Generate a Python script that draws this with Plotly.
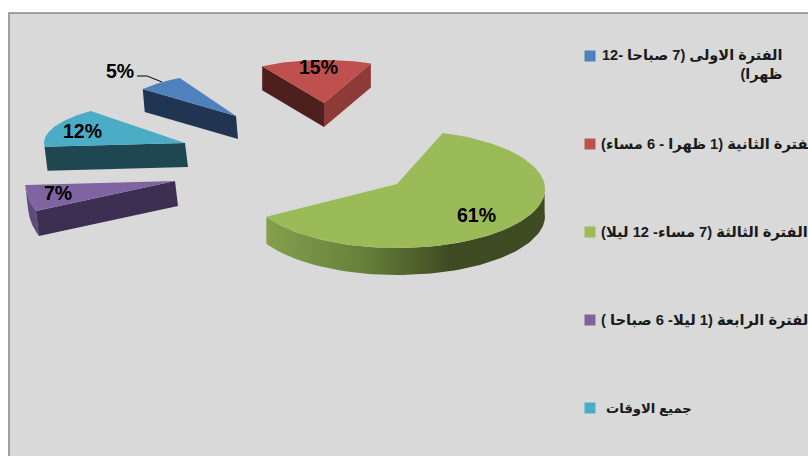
import numpy as np
import plotly.graph_objects as go

# ---- data ----
categories = [
    "الفترة الاولى (7 صباحا -12<br>ظهرا)",
    "الفترة الثانية (1 ظهرا - 6 مساء)",
    "الفترة الثالثة (7 مساء- 12 ليلا)",
    "الفترة الرابعة (1 ليلا- 6 صباحا )",
    "جميع الاوقات",
]
values = [5, 15, 61, 7, 12]
labels = ["5%", "15%", "61%", "7%", "12%"]
colors = ["#4F81BD", "#C0504D", "#9BBB59", "#8064A2", "#4BACC6"]

# ---- styling of the exploded 3-D look (apex, radii, start angle, wall offset) ----
apex_x = [236, 324, 397, 175, 185]
apex_y = [116, 103, 184, 181, 143]
drop_y = [0, 0, 5, 0, 0]
radius_x = [120, 120, 148, 150, 141]
radius_y = [43, 43, 59, 80, 43]
start_deg = [-51, -31, 18, -112, -95]
sweep_scale = [1.28, 1, 1.02, 0.76, 1.227]
wall_dx = [2, 0, 0, 3, 3]
wall_dy = [23, 24, 27, 25, 24]
label_x = [120, 318, 476, 58, 82]
label_y = [71, 67, 215, 193, 131]
legend_y = [56, 144, 232, 320, 408]
legend_text_x = [600, 599, 599, 599, 604]
legend_size = [14.5, 14.7, 14.7, 14.7, 13.2]
LEG_X = 590
FONT = "Liberation Sans, DejaVu Sans, sans-serif"

fig = go.Figure()


def angles(i):
    return np.linspace(start_deg[i], start_deg[i] + values[i] * 3.6 * sweep_scale[i], 120)


def wedge(i):
    a = np.radians(angles(i))
    ax = apex_x[i] + radius_x[i] * np.sin(a)
    ay = apex_y[i] + drop_y[i] - radius_y[i] * np.cos(a)
    return ax, ay


def poly(xs, ys, color=None, gradient=None):
    kw = dict(fillgradient=gradient) if gradient else dict(fillcolor=color)
    fig.add_trace(go.Scatter(x=list(xs) + [xs[0]], y=list(ys) + [ys[0]], mode="lines",
                             fill="toself", line=dict(width=0), hoverinfo="skip",
                             showlegend=False, **kw))


def quad(i, x0, y0, x1, y1, color):
    poly([x0, x1, x1 + wall_dx[i], x0 + wall_dx[i]],
         [y0, y1, y1 + wall_dy[i], y0 + wall_dy[i]], color)


# blue
ax, ay = wedge(0)
quad(0, ax[0], ay[0], apex_x[0], apex_y[0], "#1F3552")
poly(list(ax) + [apex_x[0]], list(ay) + [apex_y[0]], colors[0])

# red
ax, ay = wedge(1)
quad(1, ax[0], ay[0], apex_x[1], apex_y[1], "#4D1F1D")
quad(1, apex_x[1], apex_y[1], ax[-1], ay[-1], "#8E3A37")
poly(list(ax) + [apex_x[1]], list(ay) + [apex_y[1]], colors[1])

# teal
ax, ay = wedge(4)
quad(4, ax[0], ay[0], apex_x[4], apex_y[4], "#1F4751")
poly(list(ax) + [apex_x[4]], list(ay) + [apex_y[4]], colors[4])

# purple
ax, ay = wedge(3)
poly(list(ax) + list((ax + wall_dx[3])[::-1]), list(ay) + list((ay + wall_dy[3])[::-1]), "#5F4A7A")
quad(3, ax[0], ay[0], apex_x[3], apex_y[3], "#3D2F52")
poly(list(ax) + [apex_x[3]], list(ay) + [apex_y[3]], colors[3])

# green
ax, ay = wedge(2)
m = angles(2) >= 85
poly(list(ax[m]) + list((ax[m] + wall_dx[2])[::-1]),
     list(ay[m]) + list((ay[m] + wall_dy[2])[::-1]),
     gradient=dict(type="horizontal",
                   colorscale=[[0, "#84A04D"], [0.35, "#66803A"], [0.66, "#3F4B22"], [1, "#3F4B22"]]))
poly(list(ax) + [apex_x[2]], list(ay) + [apex_y[2]], colors[2])

# leader line of the 5% label
fig.add_trace(go.Scatter(x=[137, 147, 162], y=[76, 76, 82], mode="lines",
                         line=dict(color="#000000", width=1), hoverinfo="skip", showlegend=False))

# legend keys
fig.add_trace(go.Scatter(x=[LEG_X] * 5, y=legend_y, mode="markers",
                         marker=dict(symbol="square", size=11, color=colors, line=dict(width=0)),
                         hoverinfo="skip", showlegend=False))

annotations = []
for i, t in enumerate(labels):
    annotations.append(dict(x=label_x[i], y=label_y[i], text=f"<b>{t}</b>", showarrow=False,
                            xref="x", yref="y", font=dict(family=FONT, size=19.5, color="#000000")))
for i, t in enumerate(categories):
    text = "<br>".join("\u202b<b>" + p + "</b>\u202c" for p in t.split("<br>"))
    annotations.append(dict(x=legend_text_x[i], y=legend_y[i] + (9 if i == 0 else 0), text=text, showarrow=False,
                            xref="x", yref="y", xanchor="left", align="right",
                            font=dict(family=FONT, size=legend_size[i], color="#1A1A1A")))

fig.update_layout(
    width=808, height=456, margin=dict(l=0, r=0, t=0, b=0),
    paper_bgcolor="#FFFFFF", plot_bgcolor="#FFFFFF", showlegend=False,
    xaxis=dict(range=[0, 808], visible=False, fixedrange=True),
    yaxis=dict(range=[456, 0], visible=False, fixedrange=True),
    annotations=annotations,
    shapes=[dict(type="rect", xref="x", yref="y", x0=9, y0=13, x1=830, y1=480, layer="below",
                 fillcolor="#D9D9D9", line=dict(color="#868686", width=1.5))],
)
fig.write_html("out.html", config={"displayModeBar": False},
               post_script="document.body.style.margin='0';document.body.style.overflow='hidden';")
